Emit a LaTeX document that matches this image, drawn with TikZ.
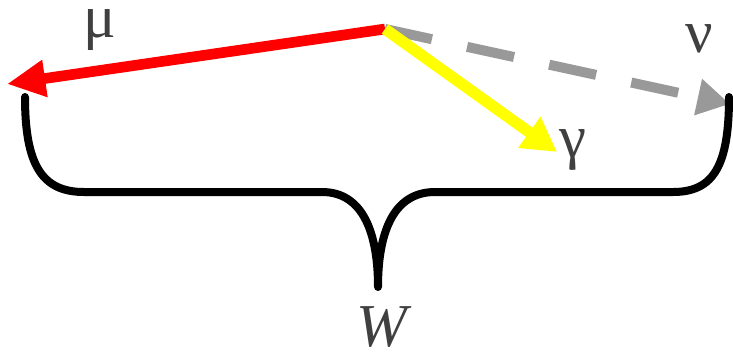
\documentclass[tikz,border=0pt]{standalone}
\usepackage{fontspec}
\setmainfont{Liberation Serif}
\usetikzlibrary{arrows.meta,positioning}
\definecolor{vecred}{HTML}{FF0000}
\definecolor{vecyellow}{HTML}{FFFF00}
\definecolor{vecgray}{HTML}{999999}
\definecolor{labelgray}{HTML}{404040}
\begin{document}
\begin{tikzpicture}[x=0.03cm, y=-0.03cm,
  lab/.style={text=labelgray, inner sep=0pt, anchor=base, font=\fontsize{52}{60}\selectfont},
  vec/.style={line cap=butt, line join=miter},
  redarr/.style={vec, line width=0.32cm, draw=vecred, -{Triangle[length=1.15cm, width=1.05cm]}},
  grayarr/.style={vec, line width=0.3cm, draw=vecgray, dash pattern=on 1.44cm off 1.08cm,
                  -{Triangle[length=0.98cm, width=1.05cm]}},
  yellowarr/.style={vec, line width=0.34cm, draw=vecyellow, -{Triangle[length=1.02cm, width=1.08cm]}},
  brace/.style={draw=black, line width=0.24cm, line cap=round, line join=round}
]
\useasboundingbox (0,0) rectangle (733,351);
\coordinate (vtx) at (385,29);
\coordinate (mutip) at (7,84);
\coordinate (nutip) at (730,104);
\coordinate (gammatip) at (557,152);
\draw[redarr] (vtx) -- (mutip);
\draw[grayarr] (vtx) -- (nutip);
\draw[yellowarr] (vtx) -- (gammatip);

\node[lab, text height=0.92cm, text depth=0.38cm] (mu) at (100,37) {μ};
\node[lab] (nu) at (699,52) {ν};
\node[lab] (gamma) at (573,157) {γ};

% brace under the vectors
\coordinate (bl) at (25,97);
\coordinate (br) at (729,97);
\coordinate (bmid) at (378,287);
\draw[brace] (bl) .. controls (25,165) and (42,192) .. (84,192) -- (322,192)
  .. controls (364,192) and (378,235) .. (bmid)
  .. controls (378,235) and (392,192) .. (435,192) -- (673,192)
  .. controls (714,192) and (729,165) .. (br);
\node[lab, font=\fontsize{52}{60}\selectfont\itshape, text height=1.3cm, text depth=0pt]
  (w) at (382,346) {W};
\end{tikzpicture}
\end{document}
